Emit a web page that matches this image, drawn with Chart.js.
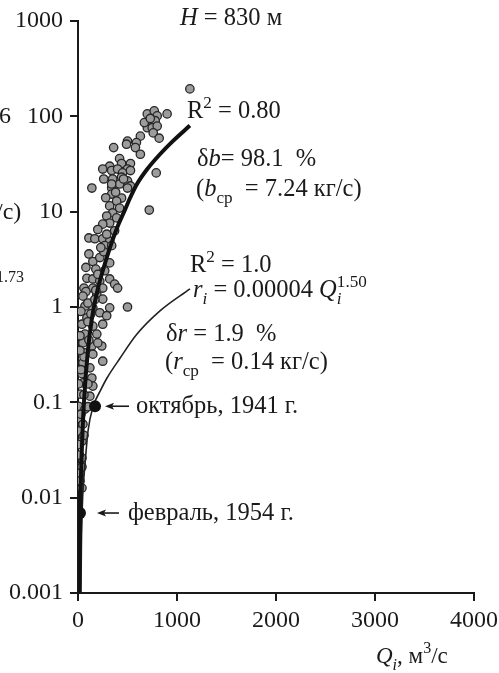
<!DOCTYPE html>
<html><head><meta charset="utf-8">
<script src="https://cdn.jsdelivr.net/npm/chart.js@4.4.0/dist/chart.umd.min.js"></script>
<style>html,body{margin:0;padding:0;background:#fff;}canvas{display:block;}</style>
</head><body>
<canvas id="c" width="499" height="673"></canvas>
<script>
// ---- tick labels ----
const yTicks = [0.001, 0.01, 0.1, 1, 10, 100, 1000];
const yTickLabels = ['0.001', '0.01', '0.1', '1', '10', '100', '1000'];
const xTicks = [0, 1000, 2000, 3000, 4000];
const xTickLabels = ['0', '1000', '2000', '3000', '4000'];

// ---- observed points: discharge Q (m3/s) and load b (kg/s) ----
const obsQ = [1130,700,770,800,900,780,700,750,800,760,820,630,590,580,630,500,490,360,420,440,530,500,320,250,340,400,450,530,350,440,500,530,420,340,140,790,
  340,500,340,440,390,320,420,720,350,290,390,320,250,370,110,170,250,320,270,340,110,150,220,320,180,270,90,150,220,320,370,60,150,250,400,
  80,50,190,250,500,70,150,320,220,90,290,40,150,250,70,190,50,140,240,70,150,250,50,120,40,140,50,150,
  5,100,20,120,5,70,5,50,5,40,5,40,5,40,20,20,40,
  20,30,100,110,60,30,100,170,200,80,180,130,60,20,200,100,30,60,10,260,200,290,230,380,280,460,670,730,260];
const obsB = [194,106,114,101,106,90,76,76,79,67,59,62,53,47,40,55,51,47,36,32,32,28,30,28,27,28,25.5,27,22,23,21,18.6,19.5,17.7,17.7,25.5,
  19.5,17.7,15.3,13.9,12.9,11.5,10.9,10.4,9.7,9.0,8.6,7.6,7.4,6.3,5.3,5.2,5.2,4.9,4.4,4.4,3.6,3.0,3.3,2.9,2.5,2.4,2.0,1.97,1.87,1.97,1.74,1.58,1.58,1.58,1.58,
  1.45,1.30,1.37,1.21,1.0,1.02,0.98,0.98,0.87,0.77,0.81,0.66,0.63,0.66,0.52,0.52,0.42,0.39,0.39,0.33,0.32,0.27,0.26,0.23,0.20,0.18,0.16,0.148,
  0.156,0.156,0.122,0.116,0.091,0.085,0.068,0.059,0.050,0.039,0.036,0.026,0.021,0.021,0.018,0.015,0.0126,
  0.5,0.9,1.1,0.45,0.3,0.22,0.7,1.2,2.2,2.6,1.5,0.85,0.12,0.35,0.42,0.09,0.075,0.045,0.028,3.8,6.5,5.8,4.2,16,14,22,86,95,22];

// ---- fitted curve for b (thick) ----
const fitBQ = [13, 18, 25, 38, 60, 100, 140, 190, 250, 323, 400, 475, 520, 596, 700, 828, 950, 1130];
const fitB  = [0.001, 0.003, 0.01, 0.03, 0.1, 0.35, 0.75, 1.4, 2.4, 4.2, 7, 10.5, 13.5, 19.5, 28, 40, 54, 80];

// ---- fitted curve for r (thin) ----
const fitRQ = [30, 34, 40, 50, 71, 101, 152, 222, 293, 424, 596, 828, 1131];
const fitR  = [0.001, 0.003, 0.006, 0.0117, 0.0225, 0.05, 0.09, 0.13, 0.18, 0.29, 0.52, 0.91, 1.55];

// ---- marked months ----
const markedQ = [172, 20];
const markedB = [0.091, 0.0069];
const markedLabels = ['октябрь, 1941 г.', 'февраль, 1954 г.'];

const FONT = '"Liberation Serif", "Times New Roman", serif';
const INK = '#1a1a1a';

function pts(xs, ys) { return xs.map((x, i) => ({ x: x, y: ys[i] })); }

function drawRich(ctx, x, y, segs, size) {
  let cx = x, subStart = x;
  segs.forEach(s => {
    const small = s.sub || s.sup;
    const fs = small ? size * 0.7 : size;
    ctx.font = (s.i ? 'italic ' : '') + fs + 'px ' + FONT;
    const dy = s.sub ? size * 0.3 : (s.sup ? -size * 0.42 : 0);
    const sx = s.stack ? subStart : cx;
    ctx.fillText(s.t, sx, y + dy);
    const w = ctx.measureText(s.t).width;
    if (s.sub) subStart = sx;
    cx = s.stack ? Math.max(cx, sx + w) : sx + w;
  });
}

const TS = 24.5;
const textBlocks = [
  { x: 180, y: 25, size: TS, segs: [{ t: 'H', i: 1 }, { t: ' = 830 м' }] },
  { x: 187, y: 118, size: TS, segs: [{ t: 'R' }, { t: '2', sup: 1 }, { t: ' = 0.80' }] },
  { x: 197, y: 166, size: TS, segs: [{ t: 'δ' }, { t: 'b', i: 1 }, { t: '= 98.1  %' }] },
  { x: 196, y: 196, size: TS, segs: [{ t: '(' }, { t: 'b', i: 1 }, { t: 'ср', sub: 1 }, { t: '  = 7.24 кг/с)' }] },
  { x: 190, y: 272, size: TS, segs: [{ t: 'R' }, { t: '2', sup: 1 }, { t: ' = 1.0' }] },
  { x: 193, y: 297, size: TS, segs: [{ t: 'r', i: 1 }, { t: 'i', i: 1, sub: 1 }, { t: ' = 0.00004 ' }, { t: 'Q', i: 1 }, { t: 'i', i: 1, sub: 1 }, { t: '1.50', sup: 1, stack: 1 }] },
  { x: 166, y: 341, size: TS, segs: [{ t: 'δ' }, { t: 'r', i: 1 }, { t: ' = 1.9  %' }] },
  { x: 165, y: 369, size: TS, segs: [{ t: '(' }, { t: 'r', i: 1 }, { t: 'ср', sub: 1 }, { t: '  = 0.14 кг/с)' }] },
  { x: 376, y: 663, size: 23, segs: [{ t: 'Q', i: 1 }, { t: 'i', i: 1, sub: 1 }, { t: ', м' }, { t: '3', sup: 1 }, { t: '/с' }] },
  { x: -1, y: 123, size: 24, segs: [{ t: '6' }] },
  { x: -4, y: 219, size: 24, segs: [{ t: '/с)' }] },
  { x: -4, y: 282, size: 16, segs: [{ t: '1.73' }] }
];
const arrowLayout = [ { gap: 10, len: 24, textGap: 7 }, { gap: 17, len: 22, textGap: 9 } ];

const annotPlugin = {
  id: 'annot',
  afterDraw(chart) {
    const ctx = chart.ctx;
    const xs = chart.scales.x, ys = chart.scales.y;
    ctx.save();
    ctx.fillStyle = INK; ctx.strokeStyle = INK;
    ctx.textAlign = 'left'; ctx.textBaseline = 'alphabetic';
    textBlocks.forEach(b => drawRich(ctx, b.x, b.y, b.segs, b.size));
    markedQ.forEach((q, i) => {
      const px = xs.getPixelForValue(q), py = ys.getPixelForValue(markedB[i]);
      const L = arrowLayout[i];
      const tip = px + L.gap, tail = tip + L.len;
      ctx.lineWidth = 1.6;
      ctx.beginPath(); ctx.moveTo(tail, py); ctx.lineTo(tip + 6, py); ctx.stroke();
      ctx.beginPath(); ctx.moveTo(tip, py); ctx.lineTo(tip + 9, py - 3.5); ctx.lineTo(tip + 7, py); ctx.lineTo(tip + 9, py + 3.5); ctx.closePath(); ctx.fill();
      ctx.font = TS + 'px ' + FONT;
      ctx.fillText(markedLabels[i], tail + L.textGap, py + 7);
    });
    ctx.restore();
  }
};

function nearestIdx(arr, v, log) {
  for (let i = 0; i < arr.length; i++) {
    const d = log ? Math.abs(Math.log10(arr[i]) - Math.log10(v)) : Math.abs(arr[i] - v);
    if (d < 1e-6) return i;
  }
  return -1;
}

new Chart(document.getElementById('c'), {
  type: 'scatter',
  data: {
    datasets: [
      { label: 'b', data: pts(obsQ, obsB), pointRadius: 4.2, pointBackgroundColor: '#9c9c9c', pointBorderColor: '#262626', pointBorderWidth: 1.3, order: 4 },
      { label: 'fit r', data: pts(fitRQ, fitR), showLine: true, pointRadius: 0, borderColor: '#222', borderWidth: 1.6, cubicInterpolationMode: 'monotone', order: 3 },
      { label: 'fit b', data: pts(fitBQ, fitB), showLine: true, pointRadius: 0, borderColor: '#111', borderWidth: 4, cubicInterpolationMode: 'monotone', order: 2 },
      { label: 'marked', data: pts(markedQ, markedB), pointRadius: 6, pointBackgroundColor: '#111', pointBorderColor: '#111', pointBorderWidth: 0, order: 1 }
    ]
  },
  options: {
    responsive: false, animation: false, devicePixelRatio: 1,
    layout: { padding: { top: 21, right: 25, bottom: 0, left: 0 } },
    plugins: { legend: { display: false }, tooltip: { enabled: false } },
    scales: {
      x: {
        type: 'linear', min: 0, max: 4000,
        afterBuildTicks(s) { s.ticks = xTicks.map(v => ({ value: v })); },
        afterFit(s) { s.height = 80; s.paddingLeft = 0; s.paddingRight = 0; },
        ticks: { callback: v => { const i = nearestIdx(xTicks, v, false); return i >= 0 ? xTickLabels[i] : ''; },
          font: { family: FONT, size: 24 }, color: INK, padding: 5, maxRotation: 0, autoSkip: false },
        grid: { drawOnChartArea: false, drawTicks: true, tickLength: 8, color: INK, lineWidth: 2 },
        border: { display: true, color: INK, width: 2 }
      },
      y: {
        type: 'logarithmic', min: 0.001, max: 1000,
        afterBuildTicks(s) { s.ticks = yTicks.map(v => ({ value: v })); },
        afterFit(s) { s.width = 78; s.paddingTop = 0; s.paddingBottom = 0; },
        ticks: { callback: v => { const i = nearestIdx(yTicks, v, true); return i >= 0 ? yTickLabels[i] : ''; },
          font: { family: FONT, size: 24 }, color: INK, padding: 7, autoSkip: false },
        grid: { drawOnChartArea: false, drawTicks: true, tickLength: 8, color: INK, lineWidth: 2 },
        border: { display: true, color: INK, width: 2 }
      }
    }
  },
  plugins: [annotPlugin]
});
</script>
</body></html>
